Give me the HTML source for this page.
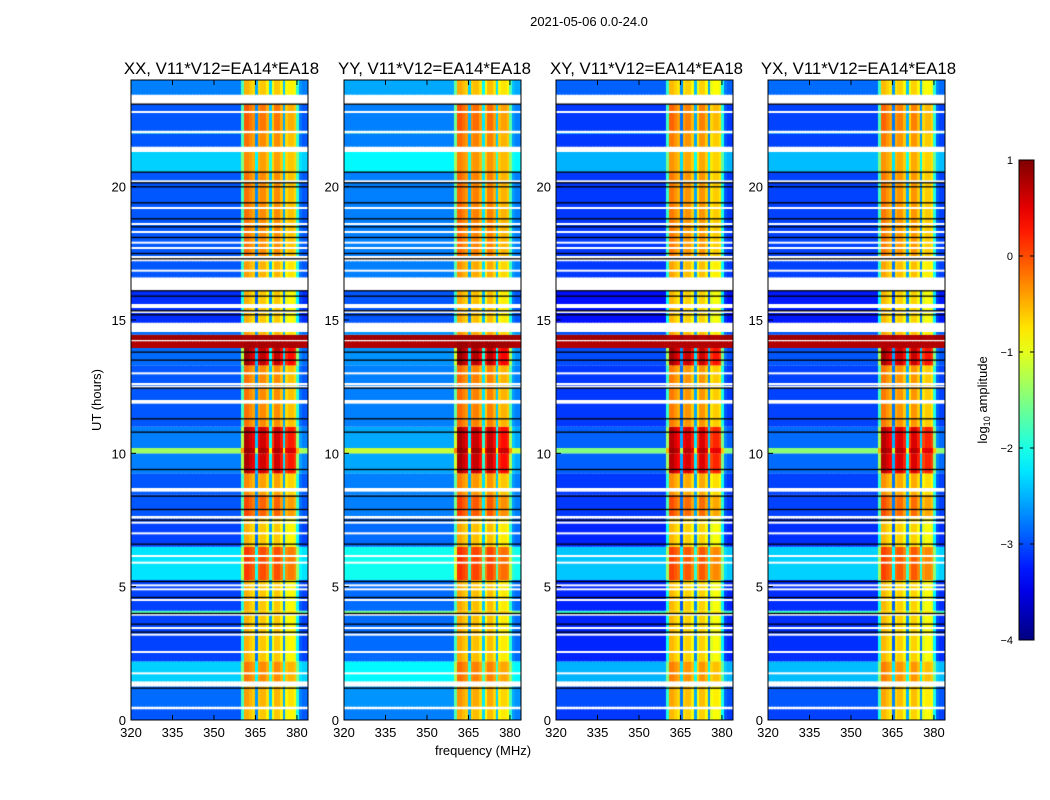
<!DOCTYPE html>
<html><head><meta charset="utf-8">
<style>
body{margin:0;background:#fff;font-family:"Liberation Sans","DejaVu Sans",sans-serif;}
#wrap{position:relative;width:1050px;height:800px;overflow:hidden;background:#fff;}
canvas{position:absolute;}
svg{position:absolute;left:0;top:0;}
</style></head>
<body>
<div id="wrap">
<svg id="ov" width="1050" height="800"></svg>
</div>
<script>
// ---- data ----
const panelTitles = ["XX, V11*V12=EA14*EA18","YY, V11*V12=EA14*EA18","XY, V11*V12=EA14*EA18","YX, V11*V12=EA14*EA18"];
const panelBgOffset = [-0.35, -0.15, -0.5, -0.45];
const panelBandOffset = [0, 0.05, -0.05, -0.05];
const segStart = [0,0.4,0.5,1.25,1.45,2.2,4.0,4.1,5.25,6.5,7.55,7.65,8.45,8.6,8.7,9.25,10.0,10.2,11.0,11.9,12.0,13.3,13.95,14.2,14.25,14.45,14.55,14.9,15.45,15.6,16.1,16.6,17.2,17.4,20.55,21.3,21.5,22.0,22.1,23.1,23.45];
const segEnd   = [0.4,0.5,1.25,1.45,2.2,4.0,4.1,5.25,6.5,7.55,7.65,8.45,8.6,8.7,9.25,10.0,10.2,11.0,11.9,12.0,13.3,13.95,14.2,14.25,14.45,14.55,14.9,15.45,15.6,16.1,16.6,17.2,17.4,20.55,21.3,21.5,22.0,22.1,23.1,23.45,24];
const segBg    = [-2.6,null,-2.5,null,-2.0,-2.7,-1.4,-2.7,-1.9,-2.7,null,-2.6,-2.6,null,-2.6,-2.4,-1.0,-2.4,-2.6,null,-2.6,-2.5,0.75,null,0.85,-2.5,null,-2.8,null,-2.8,null,-2.6,null,-2.6,-2.0,null,-2.6,-1.6,-2.6,null,-2.4];
const segBand  = [-0.6,null,-0.5,null,-0.3,-0.6,-0.6,-0.6,0.0,-0.6,null,-0.1,-0.4,null,-0.4,0.6,0.8,0.6,-0.3,null,-0.3,0.7,0.8,null,0.8,-0.5,null,-0.6,null,-0.6,null,-0.5,null,-0.3,-0.4,null,-0.3,-0.3,-0.2,null,-0.6];
const freqBins = []; for (let f=320; f<384; f++) freqBins.push(f);
const bandProfile = [0,0,0,0,0,0,0,0,0,0, 0,0,0,0,0,0,0,0,0,0, 0,0,0,0,0,0,0,0,0,0, 0,0,0,0,0,0,0,0,0,0, 0.45,1.05,1.05,1,0.95,0.1,0.95,1.0,1.0,0.9, 0.2,0.85,1.0,1.0,0.9,0.15,0.85,0.9,0.9,0.85, 0.4,0.05,0,0];
const whiteLines = [0.45,1.75,2.55,3.2,3.45,3.95,4.5,4.9,5.05,5.9,6.15,7.0,7.4,8.6,11.9,12.5,12.6,13.0,15.3,16.85,17.7,17.9,18.3,18.6,19.2,20.2,22.05,22.8];
const blackLines = [1.2,3.3,3.6,4.0,4.6,5.2,6.6,7.5,7.9,8.4,9.4,10.8,11.3,12.45,13.5,13.8,15.2,15.35,15.9,16.1,17.3,17.5,18.1,18.5,18.8,19.4,20.0,20.15,20.55,23.1];
const xTicks = [320,335,350,365,380];
const yTicks = [0,5,10,15,20];
const cbTicks = [1,0,-1,-2,-3,-4];

// ---- layout ----
const panelX = [131,344,556,768], panelW = 177, plotTop = 80, plotBottom = 720;
const fMin = 320, fMax = 384, tMin = 0, tMax = 24, vMin = -4, vMax = 1;
const xs = (f,i)=> panelX[i] + (f-fMin)/(fMax-fMin)*panelW;
const ys = t => plotBottom - (t-tMin)/(tMax-tMin)*(plotBottom-plotTop);

function jet(v){
  let x=(v-vMin)/(vMax-vMin); x=Math.max(0,Math.min(1,x));
  const c=t=>Math.round(255*Math.max(0,Math.min(1,t)));
  const r=c(Math.min(4*x-1.5,-4*x+4.5)), g=c(Math.min(4*x-0.5,-4*x+3.5)), b=c(Math.min(4*x+0.5,-4*x+2.5));
  return `rgb(${r},${g},${b})`;
}
const wrapEl=document.getElementById('wrap');
const svgEl=document.getElementById('ov');
const NS="http://www.w3.org/2000/svg";
function el(tag,attrs,txt){const e=document.createElementNS(NS,tag);for(const k in attrs)e.setAttribute(k,attrs[k]);if(txt!==undefined)e.textContent=txt;svgEl.appendChild(e);return e;}

for(let p=0;p<4;p++){
  const cv=document.createElement('canvas');
  cv.width=panelW; cv.height=plotBottom-plotTop;
  cv.style.left=panelX[p]+'px'; cv.style.top=plotTop+'px';
  
  
  wrapEl.insertBefore(cv,svgEl);
  const ctx=cv.getContext('2d');
  ctx.fillStyle='#fff';ctx.fillRect(0,0,cv.width,cv.height);
  for(let s=0;s<segStart.length;s++){
    const y0=ys(segEnd[s])-plotTop, y1=ys(segStart[s])-plotTop;
    if(segBg[s]===null) continue;
    for(let j=0;j<freqBins.length;j++){
      const bg=segBg[s]+(segBg[s]>0?0:panelBgOffset[p]), bd=segBand[s]+panelBandOffset[p];
      const v=bg+(bd-bg)*bandProfile[j];
      ctx.fillStyle=jet(v);
      const x0=xs(freqBins[j],p)-panelX[p], x1=xs(freqBins[j]+1,p)-panelX[p];
      ctx.fillRect(Math.floor(x0),y0,Math.ceil(x1)-Math.floor(x0),y1-y0);
    }
  }
  ctx.fillStyle='#fff';
  whiteLines.forEach(t=>ctx.fillRect(0,ys(t)-plotTop-1,panelW,2));
  ctx.fillStyle='#000';
  blackLines.forEach(t=>ctx.fillRect(0,ys(t)-plotTop-0.5,panelW,1.3));

  const fr=el('rect',{x:panelX[p],y:plotTop,width:panelW,height:plotBottom-plotTop,fill:'none',stroke:'#000','stroke-width':1});
  
  
  const tt=el('text',{x:panelX[p]+panelW/2+2,y:74,'text-anchor':'middle','font-size':16.8},panelTitles[p]);
  
  
  xTicks.forEach(f=>{
    const x=xs(f,p);
    el('line',{x1:x,x2:x,y1:plotBottom,y2:plotBottom-5,stroke:'#000'});
    el('line',{x1:x,x2:x,y1:plotTop,y2:plotTop+5,stroke:'#000'});
    const lb=el('text',{x:x,y:737,'text-anchor':'middle','font-size':13},String(f));
    
    
  });
  yTicks.forEach(t=>{
    const y=ys(t);
    el('line',{x1:panelX[p],x2:panelX[p]+5,y1:y,y2:y,stroke:'#000'});
    const lb=el('text',{x:panelX[p]-5,y:y+5,'text-anchor':'end','font-size':13},String(t));
    
    
  });
}
const st=el('text',{x:589,y:26,'text-anchor':'middle','font-size':13},'2021-05-06 0.0-24.0');


const yl=el('text',{x:0,y:0,'text-anchor':'middle','font-size':13,transform:'translate(101,400) rotate(-90)'},'UT (hours)');


const xl=el('text',{x:483,y:755,'text-anchor':'middle','font-size':13},'frequency (MHz)');



// colorbar
const cbX=1019,cbW=15,cbT=160,cbB=640;
const cbv=t=>cbB-(t-vMin)/(vMax-vMin)*(cbB-cbT);
const defs=el('defs',{});
const grad=document.createElementNS(NS,'linearGradient');
grad.setAttribute('id','jetg');grad.setAttribute('x1','0');grad.setAttribute('y1','1');grad.setAttribute('x2','0');grad.setAttribute('y2','0');
for(let i=0;i<=20;i++){const s=document.createElementNS(NS,'stop');s.setAttribute('offset',i/20);s.setAttribute('stop-color',jet(vMin+(vMax-vMin)*i/20));grad.appendChild(s);}
defs.appendChild(grad);
const cb=el('rect',{x:cbX,y:cbT,width:cbW,height:cbB-cbT,fill:'url(#jetg)',stroke:'#000'});


cbTicks.forEach(v=>{
  const y=cbv(v);
  el('line',{x1:cbX,x2:cbX+4,y1:y,y2:y,stroke:'#000'});
  el('line',{x1:cbX+cbW-4,x2:cbX+cbW,y1:y,y2:y,stroke:'#000'});
  const lb=el('text',{x:1013,y:y+4,'text-anchor':'end','font-size':11},v<0?'\u2212'+(-v):String(v));
  
  
});
const cl=el('text',{x:0,y:0,'text-anchor':'middle','font-size':13,transform:'translate(987,400) rotate(-90)'},'');
cl.innerHTML='log<tspan font-size="9" dy="3">10</tspan><tspan dy="-3"> amplitude</tspan>';


</script>
</body></html>
